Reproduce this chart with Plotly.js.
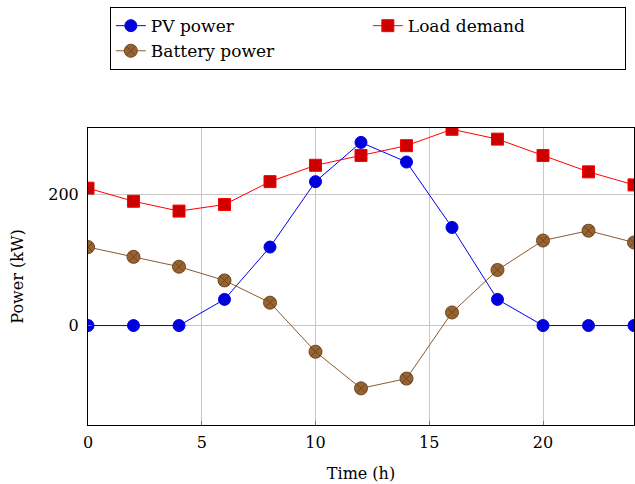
<!DOCTYPE html>
<html>
<head>
<meta charset="utf-8">
<script src="https://cdn.plot.ly/plotly-3.0.1.min.js"></script>
<style>html,body{margin:0;padding:0;background:#fff;}#chart{width:635px;height:484px;}</style>
</head>
<body>
<div id="chart"></div>
<script>
const hours = [0, 2, 4, 6, 8, 10, 12, 14, 16, 18, 20, 22, 24];
const pvPower = [0, 0, 0, 40, 120, 220, 280, 250, 150, 40, 0, 0, 0];
const loadDemand = [210, 190, 175, 185, 220, 245, 260, 275, 300, 285, 260, 235, 215];
const batteryPower = [120, 105, 90, 69, 35, -40, -96, -81, 20, 85, 130, 145, 127];
const seriesNames = ['PV power', 'Load demand', 'Battery power'];
const xTicks = [0, 5, 10, 15, 20];
const yTicks = [0, 200];

const font = {family: 'DejaVu Serif, serif', size: 16, color: '#000'};

const traces = [
  {x: hours, y: pvPower, name: seriesNames[0], mode: 'lines+markers', type: 'scatter',
   line: {color: '#0000ee', width: 1},
   marker: {symbol: 'circle', size: 12, color: '#0000dd', line: {color: '#0000dd', width: 1}}},
  {x: hours, y: loadDemand, name: seriesNames[1], mode: 'lines+markers', type: 'scatter',
   line: {color: '#ff0000', width: 1},
   marker: {symbol: 'square', size: 12, color: '#cc0000', line: {color: '#ff0000', width: 1}}},
  {x: hours, y: batteryPower, name: seriesNames[2], mode: 'lines+markers', type: 'scatter',
   line: {color: '#8a5a2e', width: 1},
   marker: {symbol: 'circle-x', size: 13, color: '#99632f', line: {color: '#6b4420', width: 1}}}
];

const layout = {
  width: 635, height: 484,
  margin: {l: 88, r: 1, t: 128, b: 59},
  paper_bgcolor: '#fff', plot_bgcolor: '#fff',
  font: font,
  showlegend: true,
  legend: {
    orientation: 'h', x: 0.04, xanchor: 'left', y: 1.407, yanchor: 'top',
    bordercolor: '#000', borderwidth: 1, bgcolor: '#fff',
    entrywidth: 212, entrywidthmode: 'pixels',
    font: {family: 'DejaVu Serif, serif', size: 17, color: '#000'}, traceorder: 'normal'
  },
  xaxis: {
    range: [0, 24], tickvals: xTicks, ticktext: xTicks.map(String),
    showgrid: true, gridcolor: '#c8c8c8', gridwidth: 1, zeroline: false,
    showline: true, linecolor: '#000', linewidth: 1, mirror: true,
    ticks: 'inside', ticklen: 4, tickcolor: '#777',
    tickfont: font, ticklabelstandoff: 3,
    title: {text: 'Time (h)', font: font, standoff: 16}
  },
  yaxis: {
    range: [-152, 302], tickvals: yTicks, ticktext: yTicks.map(String),
    showgrid: true, gridcolor: '#c8c8c8', gridwidth: 1, zeroline: false,
    showline: true, linecolor: '#000', linewidth: 1, mirror: true,
    ticks: 'inside', ticklen: 4, tickcolor: '#777',
    tickfont: font, ticklabelstandoff: 5,
    title: {text: 'Power (kW)', font: font, standoff: 20}
  }
};

Plotly.newPlot('chart', traces, layout, {displayModeBar: false, staticPlot: true});
</script>
</body>
</html>
